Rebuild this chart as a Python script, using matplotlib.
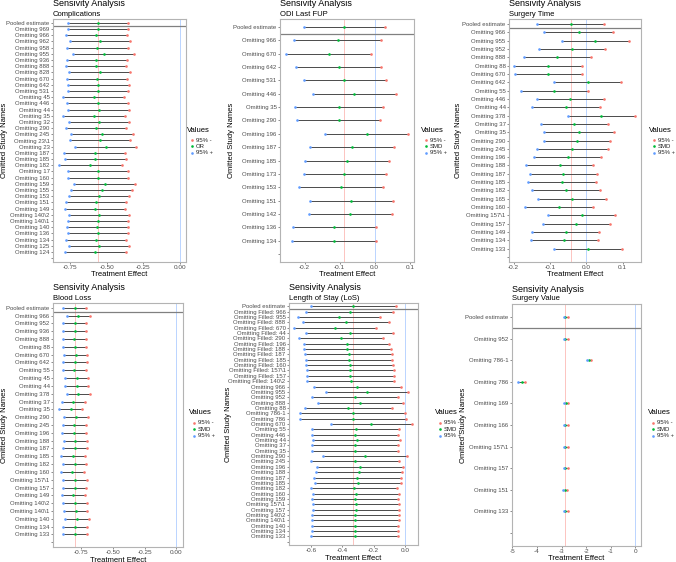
import matplotlib
matplotlib.use('Agg')
import matplotlib.pyplot as plt
from matplotlib.lines import Line2D

plt.rcParams['font.family'] = ['Liberation Sans', 'DejaVu Sans']
plt.rcParams['axes.unicode_minus'] = False

W, H = 676, 562
RED, GREEN, BLUE = '#F8766D', '#00BA38', '#619CFF'

# ---- Complications (OR) ----
comp_ids = ['969', '966', '962', '958', '955', '936', '888', '828', '670', '642', '531', '45',
            '446', '44', '35', '32', '290', '245', r'23\1', '23', '187', '185', '182', '17',
            '160', '159', '155', '153', '151', '149', r'140\2', r'140\1', '140', '136', '134',
            '125', '124']
comp_lo = [-0.761, -0.761, -0.780, -0.750, -0.768, -0.732, -0.773, -0.775, -0.755, -0.773,
           -0.761, -0.764, -0.798, -0.768, -0.761, -0.795, -0.759, -0.780, -0.745, -0.752,
           -0.714, -0.789, -0.786, -0.825, -0.761, -0.761, -0.720, -0.743, -0.759, -0.780,
           -0.784, -0.757, -0.761, -0.770, -0.764, -0.780, -0.759, -0.786]
comp_est = [-0.561, -0.561, -0.570, -0.543, -0.564, -0.520, -0.570, -0.570, -0.548, -0.566,
            -0.557, -0.559, -0.589, -0.561, -0.552, -0.586, -0.555, -0.573, -0.530, -0.545,
            -0.505, -0.580, -0.577, -0.611, -0.557, -0.559, -0.514, -0.534, -0.552, -0.570,
            -0.577, -0.552, -0.557, -0.564, -0.561, -0.573, -0.555, -0.580]
comp_hi = [-0.352, -0.352, -0.361, -0.339, -0.357, -0.311, -0.364, -0.366, -0.343, -0.359,
           -0.350, -0.352, -0.382, -0.357, -0.345, -0.377, -0.348, -0.370, -0.318, -0.339,
           -0.298, -0.373, -0.370, -0.395, -0.352, -0.352, -0.307, -0.325, -0.345, -0.368,
           -0.373, -0.345, -0.352, -0.357, -0.357, -0.368, -0.348, -0.370]

# ---- ODI Last FUP ----
odi_ids = ['966', '670', '642', '531', '446', '35', '290', '196', '187', '185', '173', '153',
           '151', '142', '136', '134']
odi_lo = [-0.203, -0.230, -0.253, -0.224, -0.203, -0.177, -0.228, -0.221, -0.141, -0.184,
          -0.198, -0.203, -0.216, -0.185, -0.188, -0.234, -0.237]
odi_est = [-0.087, -0.105, -0.131, -0.103, -0.087, -0.059, -0.102, -0.103, -0.023, -0.065,
           -0.078, -0.087, -0.096, -0.067, -0.071, -0.115, -0.117]
odi_hi = [0.029, 0.019, -0.012, 0.017, 0.031, 0.060, 0.024, 0.014, 0.094, 0.056,
          0.041, 0.031, 0.024, 0.052, 0.048, 0.003, 0.003]

# ---- Surgery Time ----
st_ids = ['966', '955', '952', '888', '88', '670', '642', '55', '446', '44', '378', '37', '35',
          '290', '245', '196', '188', '187', '185', '182', '165', '160', r'157\1', '157', '149',
          '134', '133']
st_lo = [-0.135, -0.116, -0.068, -0.131, -0.172, -0.199, -0.197, -0.089, -0.181, -0.137,
         -0.150, -0.051, -0.126, -0.116, -0.117, -0.135, -0.145, -0.165, -0.156, -0.161,
         -0.150, -0.133, -0.170, -0.106, -0.119, -0.150, -0.153, -0.088]
st_est = [-0.043, -0.020, 0.025, -0.040, -0.081, -0.106, -0.105, 0.004, -0.089, -0.044,
          -0.056, 0.042, -0.033, -0.019, -0.025, -0.038, -0.050, -0.072, -0.063, -0.068,
          -0.055, -0.039, -0.074, -0.013, -0.027, -0.057, -0.060, 0.006]
st_hi = [0.049, 0.075, 0.117, 0.052, 0.012, -0.012, -0.012, 0.097, 0.004, 0.049,
         0.038, 0.135, 0.060, 0.077, 0.066, 0.061, 0.042, 0.020, 0.031, 0.026,
         0.039, 0.055, 0.018, 0.080, 0.066, 0.036, 0.033, 0.099]

# ---- Blood Loss ----
bl_ids = ['966', '952', '936', '888', '88', '670', '642', '55', '45', '44', '378', '37', '35',
          '290', '245', '196', '188', '187', '185', '182', '160', r'157\1', '157', '149',
          r'140\2', r'140\1', '140', '134', '133']
bl_lo = [-0.892, -0.866, -0.892, -0.892, -0.897, -0.895, -0.889, -0.892, -0.897, -0.879,
         -0.879, -0.866, -0.905, -0.926, -0.884, -0.897, -0.900, -0.889, -0.892, -0.908,
         -0.895, -0.913, -0.895, -0.895, -0.905, -0.892, -0.889, -0.879, -0.895, -0.892]
bl_est = [-0.800, -0.774, -0.800, -0.800, -0.805, -0.803, -0.795, -0.800, -0.808, -0.787,
          -0.787, -0.774, -0.813, -0.834, -0.792, -0.805, -0.808, -0.797, -0.800, -0.816,
          -0.803, -0.824, -0.800, -0.803, -0.813, -0.800, -0.795, -0.787, -0.800, -0.797]
bl_hi = [-0.711, -0.684, -0.711, -0.711, -0.716, -0.711, -0.703, -0.708, -0.713, -0.695,
         -0.695, -0.684, -0.724, -0.742, -0.700, -0.711, -0.713, -0.705, -0.708, -0.724,
         -0.711, -0.729, -0.708, -0.711, -0.721, -0.708, -0.703, -0.692, -0.708, -0.705]

# ---- Length of Stay (LoS) ----
los_ids = ['Filled: 966', 'Filled: 955', 'Filled: 888', 'Filled: 670', 'Filled: 44',
           'Filled: 290', 'Filled: 196', 'Filled: 188', 'Filled: 187', 'Filled: 185',
           'Filled: 160', r'Filled: 157\1', 'Filled: 157', r'Filled: 140\2',
           '966', '955', '952', '888', '88', '786-1', '786', '670', '55', '446', '44', '37',
           '35', '290', '245', '196', '188', '187', '185', '182', '160', '159', r'157\1', '157',
           r'140\2', r'140\1', '140', '134', '133']
los_lo = [-0.600, -0.632, -0.683, -0.651, -0.706, -0.630, -0.677, -0.647, -0.643, -0.636,
          -0.634, -0.630, -0.626, -0.626, -0.624, -0.583, -0.503, -0.596, -0.556, -0.636,
          -0.668, -0.670, -0.473, -0.592, -0.596, -0.585, -0.596, -0.596, -0.520, -0.600,
          -0.562, -0.566, -0.581, -0.577, -0.602, -0.590, -0.594, -0.590, -0.590, -0.594,
          -0.592, -0.596, -0.594, -0.600]
los_est = [-0.329, -0.354, -0.420, -0.375, -0.445, -0.354, -0.409, -0.373, -0.367, -0.358,
           -0.358, -0.352, -0.348, -0.348, -0.346, -0.305, -0.240, -0.320, -0.284, -0.361,
           -0.333, -0.333, -0.216, -0.314, -0.322, -0.308, -0.320, -0.320, -0.252, -0.320,
           -0.288, -0.295, -0.303, -0.301, -0.327, -0.314, -0.318, -0.314, -0.314, -0.316,
           -0.316, -0.322, -0.320, -0.322]
los_hi = [-0.055, -0.078, -0.157, -0.102, -0.182, -0.076, -0.140, -0.100, -0.091, -0.083,
          -0.083, -0.076, -0.072, -0.072, -0.068, -0.028, 0.021, -0.045, -0.013, -0.085,
          0.000, 0.006, 0.045, -0.040, -0.045, -0.032, -0.042, -0.045, 0.015, -0.040,
          -0.013, -0.021, -0.028, -0.025, -0.051, -0.036, -0.042, -0.036, -0.036, -0.040,
          -0.040, -0.045, -0.042, -0.047]

# ---- Surgery Value ----
sv_ids = ['952', '786-1', '786', '169', '166', r'157\1', '157', '151', '133']
sv_lo = [-2.91, -2.91, -1.95, -4.78, -2.90, -2.91, -2.91, -2.91, -2.95, -2.91]
sv_est = [-2.85, -2.85, -1.88, -4.63, -2.82, -2.85, -2.85, -2.85, -2.86, -2.85]
sv_hi = [-2.74, -2.75, -1.79, -4.47, -2.72, -2.75, -2.75, -2.74, -2.78, -2.75]

fig = plt.figure(figsize=(W / 100, H / 100), dpi=100)


def ftext(x, y, s, **kw):
    fig.text(x / W, 1 - y / H, s, **kw)


def panel(box, subtitle, ids, lo, est, hi, xlim, xticks, xticklabels, mid, ylab_x, leg_xy):
    x0, x1, y0, y1 = box
    ax = fig.add_axes([x0 / W, 1 - y1 / H, (x1 - x0) / W, (y1 - y0) / H])
    names = ['Pooled estimate'] + ['Omitting ' + s for s in ids]
    n = len(names)
    ys = [n - i for i in range(n)]

    # pooled estimate and zero reference lines
    ax.axvline(est[0], color=RED, ls=(0, (1.2, 1.2)), lw=0.6, zorder=1)
    ax.axvline(0, color=BLUE, ls=(0, (1.2, 1.2)), lw=0.6, zorder=1)
    ax.hlines(ys, lo, hi, color='#4A4A4A', lw=0.7, zorder=2)
    ax.plot(hi, ys, 'o', color=RED, ms=1.9, mew=0, zorder=3)
    ax.plot(est, ys, 'o', color=GREEN, ms=1.9, mew=0, zorder=3)
    ax.plot(lo, ys, 'o', color=BLUE, ms=1.9, mew=0, zorder=3)
    ax.axhline(n - 0.5, color='#808080', lw=0.9, zorder=2)

    ax.set_xlim(*xlim)
    ax.set_ylim(-0.6, n + 0.6)
    ax.set_yticks(ys + [0])
    ax.set_yticklabels(names + [''])
    ax.set_xticks(xticks)
    ax.set_xticklabels(xticklabels)
    ax.tick_params(axis='y', length=1.5, width=0.4, color='#333333', labelsize=4.3,
                   labelcolor='#4D4D4D', pad=1)
    ax.tick_params(axis='x', length=1.5, width=0.4, color='#333333', labelsize=4.6,
                   labelcolor='#4D4D4D', pad=1)
    for sp in ax.spines.values():
        sp.set_color('#B3B3B3')
        sp.set_linewidth(0.8)

    ftext(x0, y0 - 15, 'Sensivity Analysis', fontsize=6.5, va='center', ha='left')
    ftext(x0, y0 - 5, subtitle, fontsize=5.5, va='center', ha='left')
    ftext((x0 + x1) / 2, y1 + 13, 'Treatment Effect', fontsize=5.5, va='center', ha='center')
    ftext(ylab_x, (y0 + y1) / 2, 'Omitted Study Names', fontsize=5.5, rotation=90,
          va='center', ha='center')

    # legend
    lx, ly = leg_xy
    ftext(lx, ly, 'Values', fontsize=5.5, va='center', ha='left')
    for k, (c, lab) in enumerate([(RED, '95% -'), (GREEN, mid), (BLUE, '95% +')]):
        yy = ly + 10 + 6.3 * k
        fig.add_artist(Line2D([(lx + 5) / W], [1 - yy / H], marker='o', ms=1.9, mew=0,
                              color=c, transform=fig.transFigure))
        ftext(lx + 9, yy, lab, fontsize=4.3, va='center', ha='left', color='#222222')
    return ax


panel((53, 186, 19, 262), 'Complications', comp_ids, comp_lo, comp_est, comp_hi,
      (-0.866, 0.041), [-0.75, -0.5, -0.25, 0.0], ['-0.75', '-0.50', '-0.25', '0.00'],
      'OR', 5, (187, 130))
panel((280, 414, 19, 262), 'ODI Last FUP', odi_ids, odi_lo, odi_est, odi_hi,
      (-0.270, 0.112), [-0.2, -0.1, 0.0, 0.1], ['-0.2', '-0.1', '0.0', '0.1'],
      'SMD', 232, (421, 130))
panel((509, 641, 19, 262), 'Surgery Time', st_ids, st_lo, st_est, st_hi,
      (-0.213, 0.151), [-0.2, -0.1, 0.0, 0.1], ['-0.2', '-0.1', '0.0', '0.1'],
      'SMD', 458, (649, 130))
panel((53, 183, 303, 547), 'Blood Loss', bl_ids, bl_lo, bl_est, bl_hi,
      (-0.974, 0.053), [-0.75, -0.5, -0.25, 0.0], ['-0.75', '-0.50', '-0.25', '0.00'],
      'SMD', 5, (189, 413))
panel((289, 418, 303, 545), 'Length of Stay (LoS)', los_ids, los_lo, los_est, los_hi,
      (-0.740, 0.083), [-0.6, -0.4, -0.2, 0.0], ['-0.6', '-0.4', '-0.2', '0.0'],
      'SMD', 229, (435, 413))
panel((512, 641, 304, 546), 'Surgery Value', sv_ids, sv_lo, sv_est, sv_hi,
      (-5.02, 0.24), [-5, -4, -3, -2, -1, 0], ['-5', '-4', '-3', '-2', '-1', '0'],
      'SMD', 464, (648, 413))

fig.savefig('out.png', dpi=100)
